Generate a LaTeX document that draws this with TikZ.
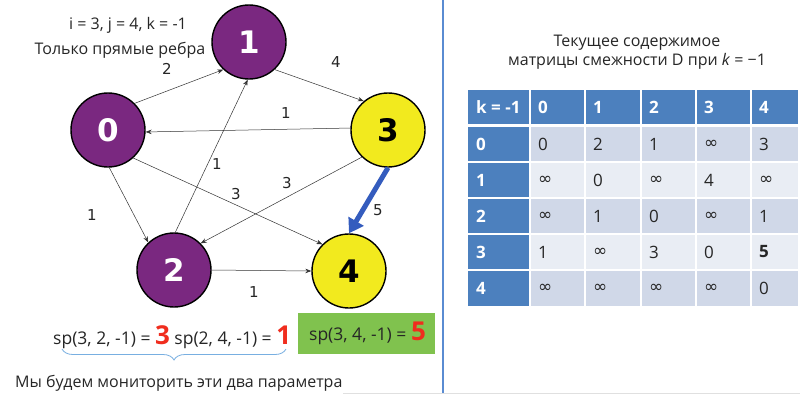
\documentclass[tikz,border=0pt]{standalone}
\usepackage{fontspec}
\setmainfont{Open Sans}
\newfontfamily\djv{DejaVu Sans}
\usetikzlibrary{arrows.meta,decorations.pathreplacing}
\definecolor{vpurple}{RGB}{122,40,128}
\definecolor{vyellow}{RGB}{242,234,30}
\definecolor{arrblue}{RGB}{52,92,190}
\definecolor{boxgreen}{RGB}{128,194,78}
\definecolor{hired}{RGB}{240,45,30}
\definecolor{hdrblue}{RGB}{76,128,190}
\definecolor{rowa}{RGB}{208,216,232}
\definecolor{rowb}{RGB}{233,237,244}
\definecolor{sepblue}{RGB}{90,140,210}
\definecolor{bracec}{RGB}{120,175,225}
\tikzset{
  vert/.style={circle,draw=black,line width=1.4pt,minimum size=74pt,inner sep=0pt,
    font=\djv\fontsize{31}{31}\selectfont\bfseries},
  vp/.style={vert,fill=vpurple,text=white},
  vy/.style={vert,fill=vyellow,text=black},
  edge/.style={draw=black!80,line width=0.5pt,-{Stealth[length=6pt,width=4.5pt]}},
  wlab/.style={font=\djv\fontsize{15}{15}\selectfont,text=black!85,inner sep=0pt},
  txt/.style={font=\fontsize{16}{19}\selectfont,inner sep=0pt,text=black!85},
  sptxt/.style={font=\fontsize{17.5}{19}\selectfont,inner sep=0pt,text=black!85},
  cell/.style={anchor=west,inner sep=0pt,font=\fontsize{17}{17}\selectfont,text=black!85},
  hcell/.style={anchor=west,inner sep=0pt,font=\fontsize{17}{17}\selectfont\bfseries,text=white},
}
\newcommand{\inff}{{\djv\fontsize{17}{17}\selectfont ∞}}
\newcommand{\redbig}[1]{\textcolor{hired}{\fontsize{26}{26}\selectfont\bfseries #1}}
\begin{document}
\begin{tikzpicture}[x=1pt,y=-1pt]
\useasboundingbox (0,0) rectangle (800,397);
\fill[white] (0,0) rectangle (800,397);
% separator lines
\draw[sepblue,line width=1.5pt] (443,0) -- (443,393);
\draw[black!12,line width=0.8pt] (343,393.5) -- (800,393.5);
% vertices
\node[vp] (n1) at (249,42) {1};
\node[vp] (n0) at (108,130) {0};
\node[vy] (n3) at (388,130) {3};
\node[vp] (n2) at (174,270) {2};
\node[vy] (n4) at (349,271) {4};
% edges
\draw[edge] (n0.45) -- (n1.-133);
\draw[edge] (n1.-47) -- (n3.130);
\draw[edge] (n3.177) -- (n0.-3);
\draw[edge] (n0.-88) -- (n2.133);
\draw[edge] (n2.88) -- (n1.-92);
\draw[edge] (n0.-48) -- (n4.135);
\draw[edge] (n3.-134) -- (n2.45);
\draw[edge] (n2.east) -- (n4.west);
\draw[arrblue,line width=5pt,-{Triangle[length=14pt,width=17pt]}] (n3.south) -- (n4.north);
% edge labels
\node[wlab] (l01) at (167,69) {2};
\node[wlab] (l13) at (336,62) {4};
\node[wlab] (l30) at (286,113) {1};
\node[wlab] (l21) at (217,164) {1};
\node[wlab] (l32) at (287,183) {3};
\node[wlab] (l04) at (236,194) {3};
\node[wlab] (l02) at (92,215) {1};
\node[wlab] (l34) at (378,210) {5};
\node[wlab] (l24) at (254,292) {1};
% top-left texts
\node[txt] (t1) at (128,25) {i = 3, j = 4, k = -1};
\node[txt] (t2) at (120,50) {Только прямые ребра};
% bottom formulas
\node[sptxt,anchor=west] (sp1) at (53,337) {sp(3, 2, -1) = \redbig{3} sp(2, 4, -1) = \redbig{1}};
\node[fill=boxgreen,minimum width=137pt,minimum height=41pt,inner sep=0pt] (gbox) at (366.5,333.5) {};
\node[sptxt] (sp3) at ([xshift=1pt]gbox.center) {sp(3, 4, -1) = \redbig{5}};
\coordinate (bl) at (62,349);
\coordinate (br) at (286,349);
\draw[bracec,line width=0.8pt,decorate,decoration={brace,mirror,amplitude=11pt}] (bl) -- (br);
\node[txt,anchor=west] (mon) at (15,383) {Мы будем мониторить эти два параметра};
% right title
\node[txt,align=center] (title) at (637,52) {Текущее содержимое\\матрицы смежности D при \textit{k} = −1};
% table
\fill[hdrblue] (468,90) rectangle (798,124);
\fill[hdrblue] (468,124) rectangle (530,306);
\foreach \r/\ya/\yb/\c in {0/127/162/rowa,1/162/198/rowb,2/198/234/rowa,3/234/270/rowb,4/270/306/rowa}{
  \fill[\c] (530,\ya) rectangle (798,\yb);
}
\foreach \x in {530,585,641,696,751}{
  \draw[white,line width=1.5pt] (\x,90) -- (\x,306);
}
\foreach \y in {162,198,234,270}{
  \draw[white,line width=1.5pt] (468,\y) -- (798,\y);
}
\fill[white] (468,124) rectangle (798,127);
% header texts
\node[hcell] (h0) at (476,107) {k = -1};
\foreach \t [count=\i from 0] in {0,1,2,3,4}{
  \pgfmathsetmacro{\xx}{{538,593,649,704,759}[\i]}
  \node[hcell] (hc\i) at (\xx,107) {\t};
}
\foreach \t [count=\i from 0] in {0,1,2,3,4}{
  \pgfmathsetmacro{\yy}{{144.5,180,216,252,288}[\i]}
  \node[hcell] (hr\i) at (476,\yy) {\t};
}
% cells
\node[cell] (c00) at (538,144.5) {0};
\node[cell] (c01) at (593,144.5) {2};
\node[cell] (c02) at (649,144.5) {1};
\node[cell] (c03) at (704,144.5) {\inff};
\node[cell] (c04) at (759,144.5) {3};
\node[cell] (c10) at (538,180) {\inff};
\node[cell] (c11) at (593,180) {0};
\node[cell] (c12) at (649,180) {\inff};
\node[cell] (c13) at (704,180) {4};
\node[cell] (c14) at (759,180) {\inff};
\node[cell] (c20) at (538,216) {\inff};
\node[cell] (c21) at (593,216) {1};
\node[cell] (c22) at (649,216) {0};
\node[cell] (c23) at (704,216) {\inff};
\node[cell] (c24) at (759,216) {1};
\node[cell] (c30) at (538,252) {1};
\node[cell] (c31) at (593,252) {\inff};
\node[cell] (c32) at (649,252) {3};
\node[cell] (c33) at (704,252) {0};
\node[cell] (c34) at (759,252) {\textbf{5}};
\node[cell] (c40) at (538,288) {\inff};
\node[cell] (c41) at (593,288) {\inff};
\node[cell] (c42) at (649,288) {\inff};
\node[cell] (c43) at (704,288) {\inff};
\node[cell] (c44) at (759,288) {0};
\end{tikzpicture}
\end{document}
